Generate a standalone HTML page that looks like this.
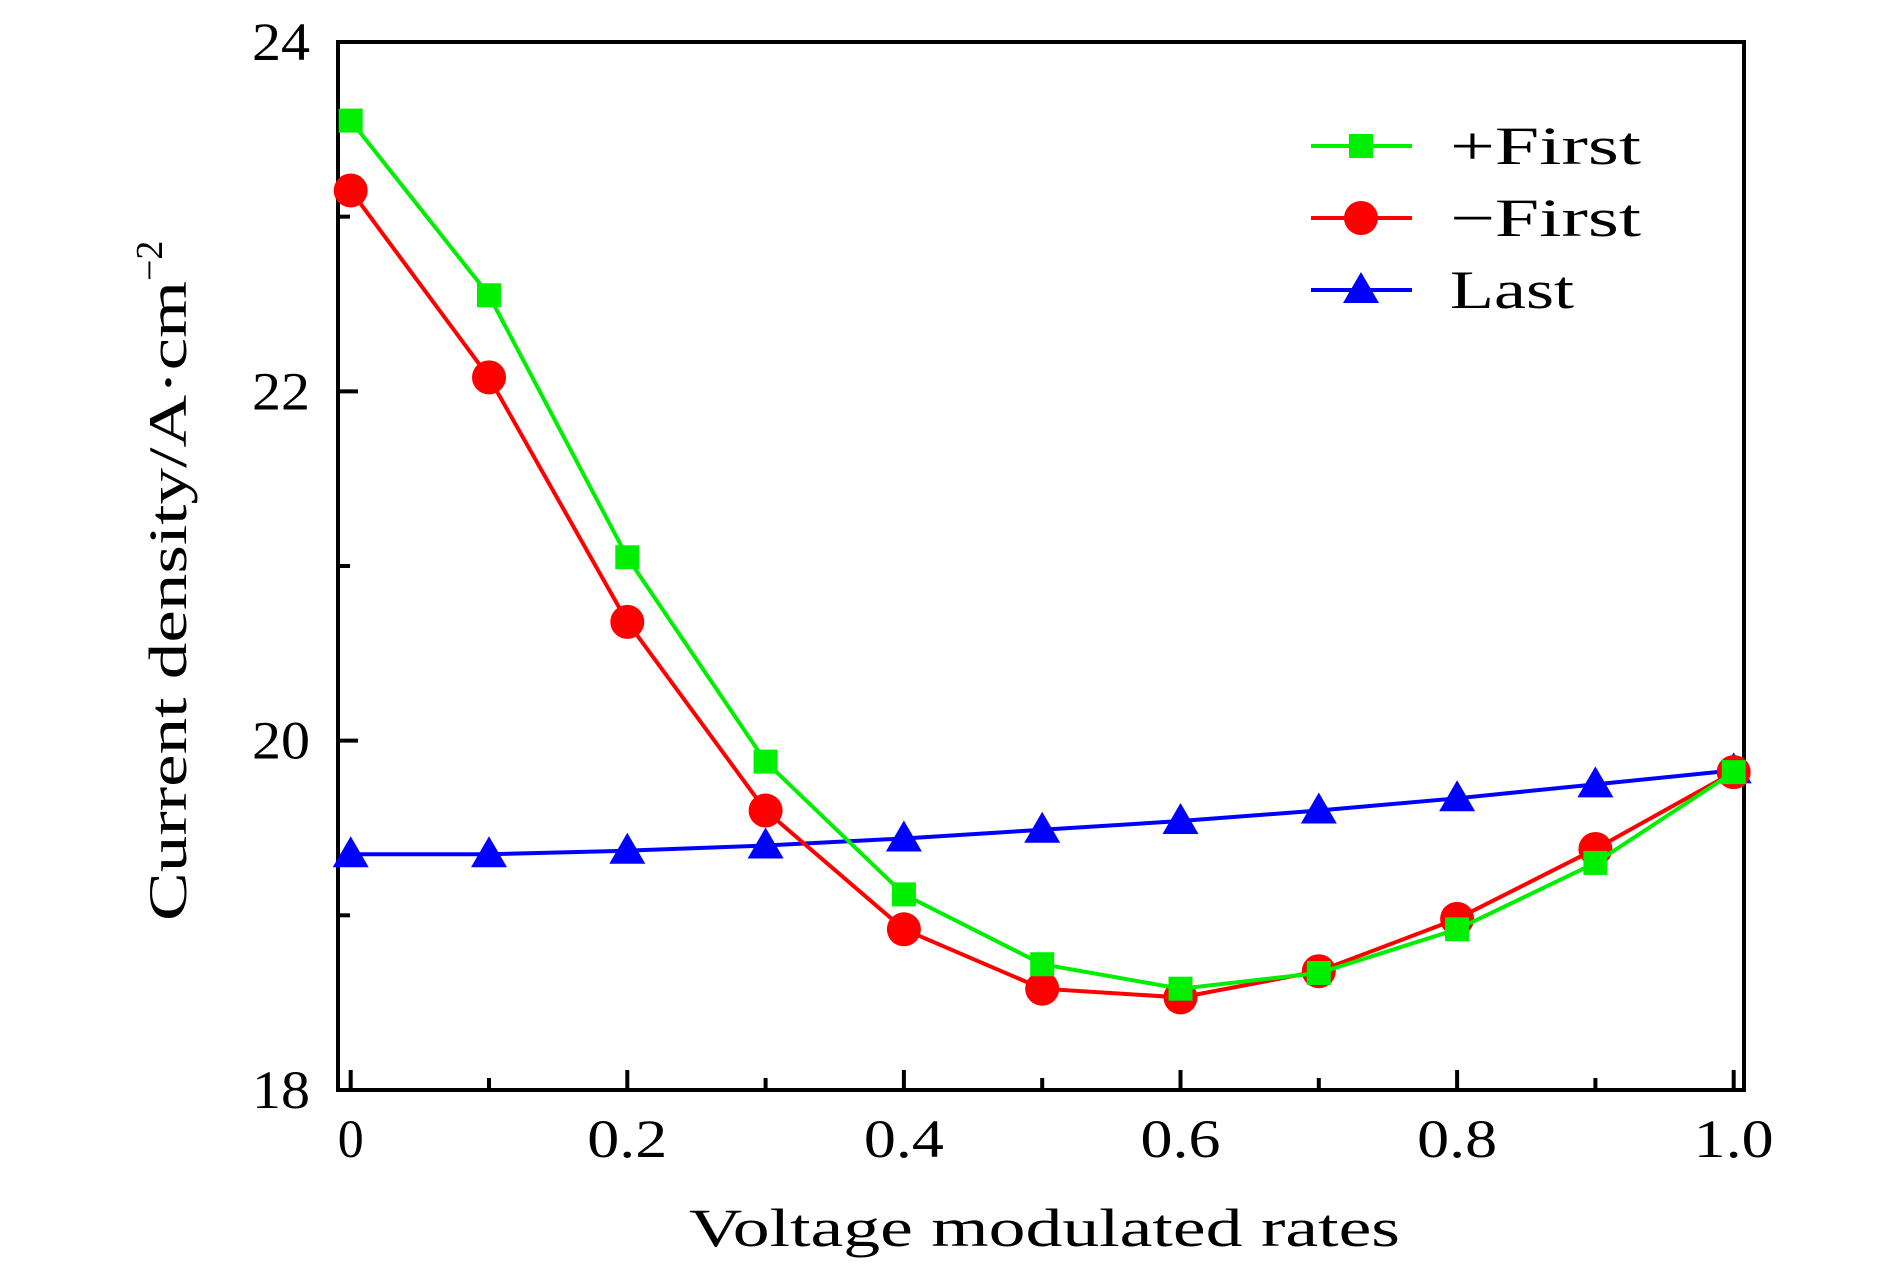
<!DOCTYPE html>
<html><head><meta charset="utf-8"><style>
html,body{margin:0;padding:0;background:#fff;}
svg{display:block;font-family:"Liberation Serif",serif;}
</style></head><body>
<svg id="chart" width="1890" height="1276" viewBox="0 0 1890 1276"></svg>
<script>
const categories=[0,0.1,0.2,0.3,0.4,0.5,0.6,0.7,0.8,0.9,1.0];
const plusFirst=[23.55,22.55,21.05,19.88,19.12,18.72,18.58,18.67,18.92,19.3,19.82];
const minusFirst=[23.15,22.08,20.68,19.6,18.92,18.58,18.53,18.68,18.98,19.38,19.82];
const last=[19.35,19.35,19.37,19.4,19.44,19.49,19.54,19.6,19.67,19.75,19.83];
const xTicks=[0,0.2,0.4,0.6,0.8,1.0];
const xTickLabels=["0","0.2","0.4","0.6","0.8","1.0"];
const yTicks=[18,20,22,24];
const yTickLabels=["18","20","22","24"];

const NS="http://www.w3.org/2000/svg";
const svg=document.getElementById('chart');
const L=338,R=1744,T=42,B=1090;
const X=v=>350.7+v*1383;
const Y=v=>B-(v-18)*(B-T)/6;
function el(t,a,p){const e=document.createElementNS(NS,t);for(const k in a)e.setAttribute(k,a[k]);(p||svg).appendChild(e);return e;}

const frame=el('rect',{x:L,y:T,width:R-L,height:B-T,fill:'none',stroke:'#000','stroke-width':4});



for(let i=0;i<=10;i++){const v=i/10;const len=i%2===0?20:12;
 const t=el('line',{x1:X(v),x2:X(v),y1:B,y2:B-len,stroke:'#000','stroke-width':4});
 
 }
xTicks.forEach((v,i)=>{const w=xTickLabels[i].length===1?26:80;
 const t=el('text',{x:X(v)-w/2,y:1157,'font-size':54,textLength:w,lengthAdjust:'spacingAndGlyphs'});t.textContent=xTickLabels[i];
 
 });
for(let v=18;v<=24;v++){const len=v%2===0?20:12;
 const t=el('line',{x1:L,x2:L+len,y1:Y(v),y2:Y(v),stroke:'#000','stroke-width':4});
 
 }
yTicks.forEach((v,i)=>{const t=el('text',{x:252,y:Y(v)+18,'font-size':54,textLength:58,lengthAdjust:'spacingAndGlyphs'});t.textContent=yTickLabels[i];
 
 });

const xt=el('text',{x:689,y:1246,'font-size':54,textLength:711,lengthAdjust:'spacingAndGlyphs'});xt.textContent='Voltage modulated rates';


const yt=el('text',{x:0,y:0,'font-size':54,transform:'translate(186,566) rotate(-90)'});
const ytMain=el('tspan',{x:-355,textLength:640,lengthAdjust:'spacingAndGlyphs'},yt);ytMain.textContent='Current density/A·cm';
const ytSup=el('tspan',{dy:-24,'font-size':38},yt);ytSup.textContent='−2';



function marker(shape,x,y,c,g){
 if(shape==='sq')return el('rect',{x:x-12,y:y-12,width:24,height:24,fill:c},g);
 if(shape==='ci')return el('circle',{cx:x,cy:y,r:17,fill:c},g);
 return el('polygon',{points:`${x},${y-18} ${x-18},${y+13} ${x+18},${y+13}`,fill:c},g);
}
const series=[[plusFirst,'#00ee00','sq','plus-first'],[minusFirst,'#ff0000','ci','minus-first'],[last,'#0000ff','tr','last']];
series.slice().reverse().forEach(([d,c,s,n])=>{
 const g=el('g',{});
 
 
 const p=el('polyline',{points:d.map((v,i)=>X(categories[i])+','+Y(v)).join(' '),fill:'none',stroke:c,'stroke-width':4},g);
 
 
 d.forEach((v,i)=>{const m=marker(s,X(categories[i]),Y(v),c,g);
  
  });
});
const labels=['+First','−First','Last'];
const lw=[191,191,124];
series.forEach(([d,c,s,n],i)=>{
 const y=146+i*72;
 const g=el('g',{});
 
 
 el('line',{x1:1311,x2:1412,y1:y,y2:y,stroke:c,'stroke-width':4},g);
 marker(s,1361,y,c,g);
 const t=el('text',{x:1450,y:y+18,'font-size':54,textLength:lw[i],lengthAdjust:'spacingAndGlyphs'},g);t.textContent=labels[i];
});
</script>
</body></html>
